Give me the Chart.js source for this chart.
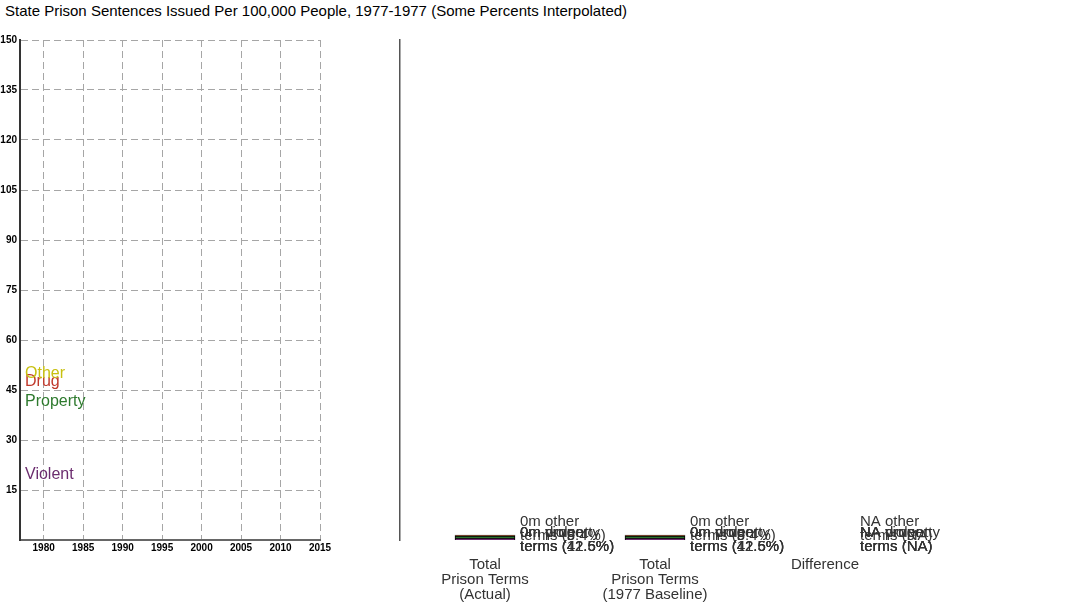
<!DOCTYPE html>
<html>
<head>
<meta charset="utf-8">
<script src="https://cdn.jsdelivr.net/npm/chart.js@4/dist/chart.umd.min.js"></script>
<style>
  body { margin: 0; background: #fff; width: 1080px; height: 605px; position: relative; overflow: hidden; font-family: 'Liberation Sans', Arial, sans-serif; }
  #title { position: absolute; left: 5px; top: 2px; font-size: 15px; color: #000; white-space: nowrap; }
  #rateChart { position: absolute; left: 0; top: 0; }
  #termChart { position: absolute; left: 340px; top: 0; }
</style>
</head>
<body>
<div id="title">State Prison Sentences Issued Per 100,000 People, 1977-1977 (Some Percents Interpolated)</div>
<canvas id="rateChart" width="340" height="605"></canvas>
<canvas id="termChart" width="740" height="605"></canvas>
<script>
// dados do grafico da esquerda (taxa por 100 mil, empilhada)
const years = [1977];
const yearTicks = [1980, 1985, 1990, 1995, 2000, 2005, 2010, 2015];
const rateTicks = [15, 30, 45, 60, 75, 90, 105, 120, 135, 150];
const violentRate = [20.1];
const propertyRate = [21.9];
const drugRate = [6.0];
const otherRate = [2.4];

// dados do grafico da direita (total de penas)
const categories = [['Total', 'Prison Terms', '(Actual)'], ['Total', 'Prison Terms', '(1977 Baseline)'], 'Difference'];
const violentTerms = [0.6, 0.6, null];
const propertyTerms = [0.6, 0.6, null];
const drugTerms = [0.15, 0.15, null];
const otherTerms = [0.15, 0.15, null];
const termAmounts = ['0m', '0m', 'NA'];
const violentPct = ['42.6%', '42.6%', 'NA'];
const propertyPct = ['41.5%', '41.5%', 'NA'];
const drugPct = ['12.5%', '12.5%', 'NA'];
const otherPct = ['3.4%', '3.4%', 'NA'];

const colors = { violent: '#6b2c6e', property: '#2e7a2e', drug: '#c0392b', other: '#c8c010' };
const FONT = "'Liberation Sans', Arial, sans-serif";

// plugin que escreve o nome da serie ao lado do ponto
const seriesLabels = {
    id: 'seriesLabels',
    afterDatasetsDraw(chart) {
        const ctx = chart.ctx;
        ctx.save();
        ctx.font = '16px ' + FONT;
        ctx.textBaseline = 'middle';
        ctx.textAlign = 'left';
        chart.data.datasets.forEach((ds, i) => {
            const pt = chart.getDatasetMeta(i).data[0];
            ctx.fillStyle = ds.borderColor;
            ctx.fillText(ds.label, pt.x + 5, pt.y + 2);
        });
        ctx.restore();
    }
};

const pts = arr => arr.map((v, i) => ({ x: years[i], y: v }));

new Chart(document.getElementById('rateChart'), {
    type: 'line',
    data: {
        datasets: [
            { label: 'Violent', data: pts(violentRate), borderColor: colors.violent },
            { label: 'Property', data: pts(propertyRate), borderColor: colors.property },
            { label: 'Drug', data: pts(drugRate), borderColor: colors.drug },
            { label: 'Other', data: pts(otherRate), borderColor: colors.other }
        ]
    },
    options: {
        responsive: false,
        animation: false,
        showLine: false,
        pointRadius: 0,
        layout: { padding: { top: 40, right: 20, left: 0, bottom: 0 } },
        plugins: { legend: { display: false }, tooltip: { enabled: false } },
        scales: {
            x: {
                type: 'linear', min: 1977, max: 2015,
                afterBuildTicks: s => { s.ticks = yearTicks.map(v => ({ value: v })); },
                afterFit: s => { s.height = 65; },
                ticks: { font: { size: 10, weight: 'bold', family: FONT }, color: '#000', padding: 2, maxRotation: 0, callback: v => String(v) },
                grid: { color: '#a6a6a6', drawTicks: false, lineWidth: 1 },
                border: { color: '#666', width: 2, dash: [7, 4] }
            },
            y: {
                stacked: true, min: 0, max: 150,
                afterBuildTicks: s => { s.ticks = rateTicks.map(v => ({ value: v })); },
                afterFit: s => { s.width = 20; },
                ticks: { font: { size: 10, weight: 'bold', family: FONT }, color: '#000', padding: 3 },
                grid: { color: '#a6a6a6', drawTicks: false, lineWidth: 1 },
                border: { color: '#333', width: 2, dash: [7, 4] }
            }
        }
    },
    plugins: [seriesLabels]
});

// plugin dos rotulos ao lado das barras
const termLabels = {
    id: 'termLabels',
    afterDatasetsDraw(chart) {
        const ctx = chart.ctx;
        const xs = chart.scales.x, ys = chart.scales.y;
        const base = ys.getPixelForValue(0);
        const series = [
            { name: 'violent', pct: violentPct, off: -7 },
            { name: 'drug', pct: drugPct, off: -7 },
            { name: 'property', pct: propertyPct, off: -7 },
            { name: 'other', pct: otherPct, off: -18 }
        ];
        ctx.save();
        ctx.font = '15px ' + FONT;
        ctx.textBaseline = 'middle';
        ctx.textAlign = 'left';
        ctx.fillStyle = '#333';
        categories.forEach((c, i) => {
            const x = xs.getPixelForValue(i) + 35;
            series.forEach(s => {
                const y = base + s.off;
                ctx.fillText(termAmounts[i] + ' ' + s.name, x, y);
                ctx.fillText('terms (' + s.pct[i] + ')', x, y + 14);
            });
        });
        ctx.restore();
    }
};

const barSet = (label, data, color) => ({
    label, data, backgroundColor: color, borderColor: '#000', borderWidth: 1, barThickness: 60
});

new Chart(document.getElementById('termChart'), {
    type: 'bar',
    data: {
        labels: categories,
        datasets: [
            barSet('Violent', violentTerms, colors.violent),
            barSet('Property', propertyTerms, colors.property),
            barSet('Drug', drugTerms, colors.drug),
            barSet('Other', otherTerms, colors.other)
        ]
    },
    options: {
        responsive: false,
        animation: false,
        layout: { padding: { top: 40, right: 170, left: 0, bottom: 0 } },
        plugins: { legend: { display: false }, tooltip: { enabled: false } },
        scales: {
            x: {
                stacked: true,
                afterFit: s => { s.height = 65; },
                ticks: { font: { size: 15, family: FONT, lineHeight: 1 }, color: '#333', padding: 9, maxRotation: 0 },
                grid: { display: false },
                border: { display: false }
            },
            y: {
                stacked: true, min: 0, max: 150,
                afterFit: s => { s.width = 60; },
                ticks: { display: false },
                grid: { display: false },
                border: { color: '#555', width: 1.5 }
            }
        }
    },
    plugins: [termLabels]
});
</script>
</body>
</html>
